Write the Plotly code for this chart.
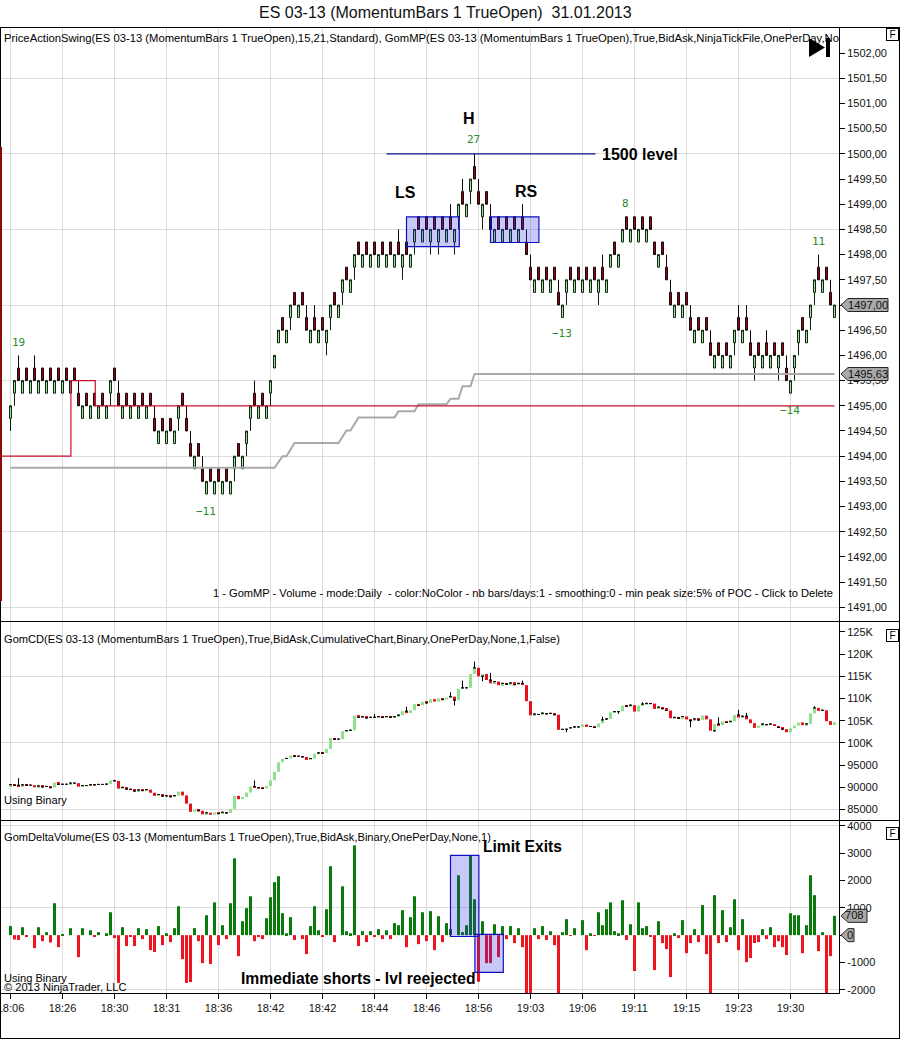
import plotly.graph_objects as go

# ---------- data ----------
time_ticks = [0, 13, 26, 39, 52, 65, 78, 91, 104, 117, 130, 143, 156, 169, 182, 195]
time_labels = ["18:06", "18:26", "18:30", "18:31", "18:36", "18:42", "18:42", "18:44",
               "18:46", "18:56", "19:03", "19:06", "19:11", "19:15", "19:23", "19:30"]

# lower edge of each momentum-bar body (every body spans 0.25 points)
body_low = [
    1494.75, 1495.25, 1495.5, 1495.25, 1495.5, 1495.25, 1495.5, 1495.25, 1495.5, 1495.25,
    1495.5, 1495.25, 1495.5, 1495.25, 1495.5, 1495.25, 1495.5, 1495.0, 1494.75, 1495.0,
    1494.75, 1495.0, 1494.75, 1495.0, 1494.75, 1495.25, 1495.5, 1495.0, 1494.75, 1495.0,
    1494.75, 1495.0, 1494.75, 1495.0, 1494.75, 1495.0, 1494.5, 1494.25, 1494.5, 1494.25,
    1494.5, 1494.25, 1494.75, 1495.0, 1494.5, 1494.0, 1493.75, 1494.0, 1493.5, 1493.25,
    1493.5, 1493.25, 1493.5, 1493.25, 1493.5, 1493.25, 1493.75, 1494.0, 1493.75, 1494.25,
    1494.75, 1495.0, 1494.75, 1495.0, 1494.75, 1495.25, 1495.75, 1496.25, 1496.5, 1496.25,
    1496.75, 1497.0, 1496.75, 1497.0, 1496.5, 1496.25, 1496.5, 1496.25, 1496.5, 1496.25,
    1496.75, 1497.0, 1496.75, 1497.25, 1497.5, 1497.25, 1497.75, 1498.0, 1497.75, 1498.0,
    1497.75, 1498.0, 1497.75, 1498.0, 1497.75, 1498.0, 1497.75, 1498.0, 1497.75, 1498.0,
    1497.75, 1498.25, 1498.5, 1498.25, 1498.5, 1498.25, 1498.5, 1498.25, 1498.5, 1498.25,
    1498.5, 1498.25, 1498.75, 1499.0, 1498.75, 1499.25, 1499.5, 1499.0, 1498.75, 1499.0,
    1498.5, 1498.25, 1498.5, 1498.25, 1498.5, 1498.25, 1498.5, 1498.25, 1498.5, 1498.0,
    1497.5, 1497.25, 1497.5, 1497.25, 1497.5, 1497.25, 1497.5, 1497.0, 1496.75, 1497.25,
    1497.5, 1497.25, 1497.5, 1497.25, 1497.5, 1497.25, 1497.5, 1497.25, 1497.5, 1497.25,
    1497.75, 1498.0, 1497.75, 1498.25, 1498.5, 1498.25, 1498.5, 1498.25, 1498.5, 1498.25,
    1498.5, 1498.0, 1497.75, 1498.0, 1497.5, 1497.0, 1496.75, 1497.0, 1496.75, 1497.0,
    1496.5, 1496.25, 1496.5, 1496.25, 1496.5, 1496.0, 1495.75, 1496.0, 1495.75, 1496.0,
    1495.75, 1496.25, 1496.5, 1496.25, 1496.5, 1496.0, 1495.75, 1496.0, 1495.75, 1496.0,
    1495.75, 1496.0, 1495.75, 1496.0, 1495.5, 1495.25, 1495.75, 1496.25, 1496.5, 1496.25,
    1496.75, 1497.25, 1497.5, 1497.25, 1497.5, 1497.0, 1496.75,
]
bar_dir = ("uududududu" "dudududdud" "ududuuddud" "udududdudu" "duuddduddu"
           "dududuuduu" "ududuuuudu" "ududdududu" "uduuduudud" "ududududud"
           "uududududu" "duuduuddud" "dududududd" "dudududduu" "dududududu"
           "uduudududu" "ddudddudud" "dududdudud" "uududdudud" "ududduuudu"
           "uududdu")
price_high_wick = {2: 1496, 6: 1496, 17: 1495.5, 27: 1495.5, 36: 1495, 44: 1495, 45: 1494.5,
                   48: 1494, 61: 1495.5, 74: 1497, 76: 1497, 97: 1498.5, 110: 1499,
                   113: 1499.5, 116: 1500, 117: 1499.5, 120: 1499, 128: 1499, 129: 1498.5,
                   130: 1498, 137: 1497.5, 148: 1498, 164: 1498, 165: 1497.5, 170: 1497,
                   175: 1496.5, 182: 1497, 184: 1497, 185: 1496.5, 189: 1496.5, 194: 1496,
                   202: 1498, 205: 1497.5}
price_low_wick = {0: 1494.5, 1: 1495, 25: 1495, 42: 1494.5, 56: 1493.5, 59: 1494, 60: 1494.5,
                  65: 1495, 70: 1496.5, 79: 1496, 80: 1496.5, 83: 1497, 86: 1497.5, 98: 1497.5,
                  101: 1498, 105: 1498, 107: 1498, 111: 1498, 112: 1498.5, 115: 1499, 118: 1498.5,
                  139: 1497, 147: 1497, 181: 1496, 186: 1495.5, 192: 1495.5, 196: 1495.5,
                  197: 1496, 200: 1496.5, 201: 1497}

poc_bar = [-2.4, 15.1, 21.2, 206]
poc_price = [1494.0, 1495.5, 1495.0, 1495.0]
value_bar = [0, 66, 68, 69, 71, 82, 84, 85, 87, 96, 97, 101, 102, 109, 110, 112, 113, 115, 116, 206]
value_price = [1493.77, 1493.77, 1494.0, 1494.0, 1494.26, 1494.26, 1494.51, 1494.51, 1494.77,
               1494.77, 1494.89, 1494.89, 1495.03, 1495.03, 1495.14, 1495.14, 1495.39, 1495.39,
               1495.63, 1495.63]

cd_close = [
    90630, 90470, 90290, 90580, 90510, 90510, 90035, 90325, 90105, 90215,
    89945, 91115, 90675, 90710, 90710, 90965, 90965, 90160, 90415, 90415,
    90595, 90560, 90670, 90670, 90740, 91580, 91470, 89720, 90010, 89610,
    89575, 89175, 89430, 89285, 89505, 88800, 88100, 88400, 88050, 88100,
    87900, 88150, 89050, 88200, 86350, 84500, 84950, 84750, 83950, 84300,
    83850, 84400, 84100, 84400, 84250, 85150, 88100, 87350, 87850, 88840,
    90200, 89950, 89900, 89750, 90300, 91600, 93500, 95650, 96450, 96520,
    97180, 97000, 97000, 96860, 96170, 96500, 97560, 97740, 97700, 98650,
    101100, 100850, 100850, 102640, 102780, 102850, 106140, 105740, 105880, 105620,
    105770, 105700, 105920, 105775, 105950, 105800, 105900, 106250, 107150, 106700,
    107350, 108750, 108450, 109250, 109000, 109850, 109300, 110000, 109750, 110200,
    110400, 109600, 112150, 112400, 112400, 115500, 116900, 115000, 115500, 114150,
    113400, 113800, 113000, 113400, 113250, 113500, 113100, 113400, 113000, 109400,
    106200, 106500, 106400, 106700, 106550, 106650, 106350, 102950, 103050, 103400,
    103400, 103600, 103600, 104150, 103600, 103700, 103500, 104400, 105200, 105400,
    106900, 107050, 107100, 108400, 108250, 108500, 107050, 108400, 108750, 108900,
    108850, 107650, 108050, 107700, 107300, 105550, 105750, 105600, 105950, 105300,
    105000, 105400, 105150, 106150, 105300, 102750, 104250, 104000, 104850, 104600,
    104850, 106300, 105700, 106000, 105300, 104450, 103400, 103900, 104250, 104100,
    104250, 103800, 103500, 103100, 102400, 103300, 103900, 104600, 104000, 104300,
    106650, 107900, 107200, 107350, 104900, 104050, 104650,
]
cd_first_open = 90300
cd_high_wick = {2: 92100, 61: 91560, 91: 106480, 99: 108140, 110: 111400, 113: 114025, 116: 118300,
                120: 115750, 128: 114025, 148: 105925, 158: 109150, 177: 105775, 182: 107425,
                184: 106750, 201: 108250}
cd_low_wick = {111: 108400, 118: 113875, 139: 102400, 152: 106525, 170: 103525, 176: 102550}

delta = [
    330, -160, -180, 290, -70, 0, -475, 290, -220, 110,
    -270, 1170, -440, 35, 0, 255, 0, -805, 255, 0,
    180, -35, 110, 0, 70, 840, -110, -1750, 290, -400,
    -35, -400, 255, -145, 220, -550, -620, 330, -365, 70,
    -255, 255, 1060, -880, -1750, -1720, 255, -220, -1025, 730,
    -1060, 1200, -365, 365, -145, 1170, 2815, -770, 510, 990,
    1425, -220, -70, -145, 620, 1390, 1940, 2160, 805, 70,
    660, -180, 0, -145, -695, 330, 1060, 180, -35, 950,
    2525, -255, 0, 1790, 145, 70, 3290, -400, 145, -255,
    145, -70, 220, -145, 180, -145, 440, 365, 915, -440,
    660, 1425, -330, 840, -220, 880, -550, 695, -255, 440,
    220, 0, 2195, 110, 365, 2915, 1315, -1710, 510, -1025,
    -1025, 400, -805, 330, -145, 330, -290, 255, -440, -2150,
    -2150, 255, -145, 330, -180, 145, -365, -2150, 110, 585,
    -25, 255, 0, 550, -550, 70, -25, 840, 365, 950,
    1200, 145, 70, 1280, -180, 400, -1315, 1200, 255, 330,
    -35, -1280, 510, -290, -510, -1535, 70, -110, 550, -660,
    -290, 220, -255, 1100, -695, -2150, 1465, -290, 915, -255,
    290, 1315, -550, 585, -990, -840, -290, -255, 220, -145,
    290, -440, -220, -440, -730, 805, 730, 730, -660, 365,
    2195, 1465, -585, 110, -2150, -770, 708,
]

price_ticks = [1491 + 0.5 * k for k in range(23)]
price_grid = [1491.0, 1492.5, 1494.0, 1495.5, 1497.0, 1498.5, 1500.0, 1501.5]
cd_ticks = [85000, 90000, 95000, 100000, 105000, 110000, 115000, 120000, 125000]
cd_labels = ["85000", "90000", "95000", "100K", "105K", "110K", "115K", "120K", "125K"]
cd_grid = [85000, 100000, 115000]
delta_ticks = [-2000, -1000, 0, 1000, 2000, 3000, 4000]
delta_grid = [-2000, 1000, 4000]

swing_labels = [("19", 18, 342), ("27", 474, 140), ("\u221211", 206, 511), ("\u221213", 562, 334),
                ("8", 625, 203), ("11", 818, 241), ("\u221214", 790, 410)]

# ---------- page geometry ----------
W, H = 900, 1039
def px(v): return v / W
def py(v): return 1 - v / H

FONT = "Liberation Sans"
GRID = "#dcdcdc"
n = len(body_low)
assert n == len(bar_dir) == len(cd_close) == len(delta) == 207
bars = list(range(n))

opens = [b if d == "u" else b + 0.25 for b, d in zip(body_low, bar_dir)]
closes = [b + 0.25 if d == "u" else b for b, d in zip(body_low, bar_dir)]
highs = [price_high_wick.get(i, body_low[i] + 0.25) for i in bars]
lows = [price_low_wick.get(i, body_low[i]) for i in bars]

cd_open = [cd_first_open] + cd_close[:-1]
# black marks of the cumulative pane: wicks and the dashes of small bodies
tick_bars, tick_anchor, tick_high, tick_low = [], [], [], []
for i in bars:
    o, c = cd_open[i], cd_close[i]
    hi = cd_high_wick.get(i)
    lo = cd_low_wick.get(i)
    if hi is None and lo is None and abs(c - o) >= 450:
        continue
    anchor = max(o, c) if hi is not None else (min(o, c) if lo is not None else c)
    tick_bars.append(i)
    tick_anchor.append(anchor)
    tick_high.append(hi if hi is not None else anchor)
    tick_low.append(lo if lo is not None else anchor)

fig = go.Figure()

# price pane
fig.add_trace(go.Candlestick(x=bars, open=opens, high=highs, low=lows, close=closes, yaxis="y",
                             increasing=dict(line=dict(color="#0c200c", width=1), fillcolor="#a8f0a8"),
                             decreasing=dict(line=dict(color="#140606", width=1), fillcolor="#a00c20"),
                             whiskerwidth=0))
fig.add_trace(go.Scatter(x=value_bar, y=value_price, mode="lines", yaxis="y",
                         line=dict(color="#a9a9a9", width=2), hoverinfo="skip"))
fig.add_trace(go.Scatter(x=poc_bar, y=poc_price, mode="lines", yaxis="y",
                         line=dict(color="#cc0f2c", width=1.2, shape="hv"), hoverinfo="skip"))

# cumulative delta pane
fig.add_trace(go.Bar(x=bars, y=[c - o for c, o in zip(cd_close, cd_open)], base=cd_open, yaxis="y2", width=0.75,
                     marker=dict(color=["#90e090" if c >= o else "#e8101c" for c, o in zip(cd_close, cd_open)],
                                 line=dict(width=0))))
fig.add_trace(go.Candlestick(x=tick_bars, open=tick_anchor, high=tick_high, low=tick_low, close=tick_anchor, yaxis="y2",
                             increasing=dict(line=dict(color="black", width=1)),
                             decreasing=dict(line=dict(color="black", width=1)),
                             whiskerwidth=0))

# delta volume pane
fig.add_trace(go.Bar(x=bars, y=delta, yaxis="y3", width=0.75,
                     marker=dict(color=["#0a7a0a" if v >= 0 else "#ee1520" for v in delta],
                                 line=dict(width=0))))

shapes = []
# annotation boxes drawn on the chart
BOX = dict(fillcolor="rgba(40,40,230,0.25)", line=dict(color="#1010c0", width=1.2), layer="above")
shapes.append(dict(type="rect", xref="x", yref="y", x0=99, x1=112.2, y0=1498.16, y1=1498.75, **BOX))
shapes.append(dict(type="rect", xref="x", yref="y", x0=120, x1=132.1, y0=1498.24, y1=1498.75, **BOX))
shapes.append(dict(type="rect", xref="x", yref="y3", x0=110, x1=117.1, y0=-50, y1=2920, **BOX))
shapes.append(dict(type="rect", xref="x", yref="y3", x0=116.1, x1=123.2, y0=-1367, y1=25, **BOX))
shapes.append(dict(type="line", xref="x", yref="y", x0=94, x1=146.25, y0=1500, y1=1500,
                   line=dict(color="#10108c", width=1.2), layer="above"))
# window frame and pane separators
FRAME = dict(color="black", width=1)
for (a, b, c, d) in [(0, 27.5, 900, 27.5), (0, 621.5, 900, 621.5), (0, 820.5, 900, 820.5), (0, 1038.5, 900, 1038.5),
                     (0.5, 27, 0.5, 1039), (899.5, 27, 899.5, 1039)]:
    shapes.append(dict(type="line", xref="paper", yref="paper", x0=px(a), x1=px(c), y0=py(b), y1=py(d),
                       line=FRAME, layer="above"))
# dark red strip at the left edge
shapes.append(dict(type="rect", xref="paper", yref="paper", x0=px(0), x1=px(2), y0=py(601), y1=py(147),
                   fillcolor="#8b0a0a", line=dict(width=0), layer="above"))
# skip-to-end icon
shapes.append(dict(type="path", xref="paper", yref="paper", layer="above", fillcolor="black", line=dict(width=0),
                   path=f"M {px(809)} {py(38)} L {px(825)} {py(47.5)} L {px(809)} {py(57)} Z"))
shapes.append(dict(type="rect", xref="paper", yref="paper", x0=px(826), x1=px(830), y0=py(57), y1=py(38),
                   fillcolor="black", line=dict(width=0), layer="above"))
# current value tags
def tag(yref, value, right):
    return dict(type="path", xref="paper", yref=yref, xsizemode="pixel", ysizemode="pixel",
                xanchor=px(839), yanchor=value, layer="above", fillcolor="#a9a9a9",
                line=dict(color="#222222", width=1),
                path=f"M 2 0 L 9 -6.5 L {right} -6.5 L {right} 6.5 L 9 6.5 Z")
shapes += [tag("y", 1497.0, 49), tag("y", 1495.63, 49), tag("y3", 708, 28), tag("y3", 0, 15)]

annotations = []
def text(s, x, y, size=11.1, anchor="left", color="black", bold=False, family=FONT):
    annotations.append(dict(text=f"<b>{s}</b>" if bold else s, x=px(x), y=py(y), xref="paper", yref="paper",
                            xanchor=anchor, yanchor="middle", showarrow=False, borderpad=0,
                            font=dict(family=family, size=size, color=color)))

text("ES 03-13 (MomentumBars 1 TrueOpen)\u00a0\u00a031.01.2013", 445, 13, size=16, anchor="center", color="#111111")
text("PriceActionSwing(ES 03-13 (MomentumBars 1 TrueOpen),15,21,Standard), GomMP(ES 03-13 (MomentumBars 1 TrueOpen),True,BidAsk,NinjaTickFile,OnePerDay,No",
     2.5, 38, size=11.25)
text("1 - GomMP - Volume - mode:Daily\u00a0 - color:NoColor - nb bars/days:1 - smoothing:0 - min peak size:5% of POC - Click to Delete",
     834, 593, anchor="right")
text("GomCD(ES 03-13 (MomentumBars 1 TrueOpen),True,BidAsk,CumulativeChart,Binary,OnePerDay,None,1,False)", 2.5, 639)
text("Using Binary", 2.5, 800)
text("GomDeltaVolume(ES 03-13 (MomentumBars 1 TrueOpen),True,BidAsk,Binary,OnePerDay,None,1)", 2.5, 837)
text("Using Binary", 2.5, 978)
text("\u00a9 2013 NinjaTrader, LLC", 2.5, 987)
text("Limit Exits", 482, 846, size=15.6, bold=True)
text("Immediate shorts - lvl reejected", 240, 978, size=15.7, bold=True)
text("LS", 405, 192, size=16, anchor="center", bold=True)
text("RS", 526.5, 191, size=16, anchor="center", bold=True)
text("H", 469, 118, size=16, anchor="center", bold=True)
text("1500 level", 601, 154, size=16, bold=True)
for s, x, y in swing_labels:
    text(s, x, y, size=11, anchor="center", color="#2e8b2e", family="DejaVu Sans Mono")
for s, x, y in [("1497,00", 868, 305), ("1495,63", 868, 374), ("708", 854, 915.3), ("0", 850, 935)]:
    text(s, x, y, anchor="center", color="#111111")
for y in (35, 635, 833):
    annotations.append(dict(text="F", x=px(892), y=py(y), xref="paper", yref="paper", xanchor="center", yanchor="middle",
                            showarrow=False, width=11, height=11, borderpad=0, bordercolor="black", borderwidth=1,
                            font=dict(family=FONT, size=10, color="black")))

AX = dict(showline=True, linecolor="black", linewidth=1, ticks="outside", ticklen=5, tickwidth=1, tickcolor="black",
          tickfont=dict(family=FONT, size=11, color="#111111"), zeroline=False, fixedrange=True, automargin=False)

def yaxis(dom, rng, vals, labels, grid):
    return dict(domain=dom, range=rng, side="right", anchor="x", tickmode="array", tickvals=vals, ticktext=labels,
                showgrid=False, minor=dict(tickmode="array", tickvals=grid, showgrid=True, gridcolor=GRID, gridwidth=1,
                                           ticks=""), **AX)

fig.update_layout(
    width=W, height=H, margin=dict(l=0, r=0, t=0, b=0), autosize=False,
    paper_bgcolor="white", plot_bgcolor="white", showlegend=False, barmode="overlay", hovermode=False,
    xaxis=dict(domain=[px(1), px(839)], range=[-2.375, 207.125], anchor="y3", tickmode="array",
               tickvals=time_ticks, ticktext=time_labels, showgrid=True, gridcolor=GRID, gridwidth=1,
               ticklabeloverflow="allow", rangeslider=dict(visible=False), **AX),
    yaxis=yaxis([py(621), py(28)], [1490.73, 1502.496], price_ticks, [f"{v:.2f}".replace(".", ",") for v in price_ticks], price_grid),
    yaxis2=yaxis([py(820), py(622)], [82670, 127200], cd_ticks, cd_labels, cd_grid),
    yaxis3=yaxis([py(993), py(821)], [-2120, 4183], delta_ticks, [str(v) for v in delta_ticks], delta_grid),
    shapes=shapes, annotations=annotations,
)

fig.write_html("out.html", config=dict(displayModeBar=False),
               post_script="document.body.style.margin='0';document.body.style.overflow='hidden';")
